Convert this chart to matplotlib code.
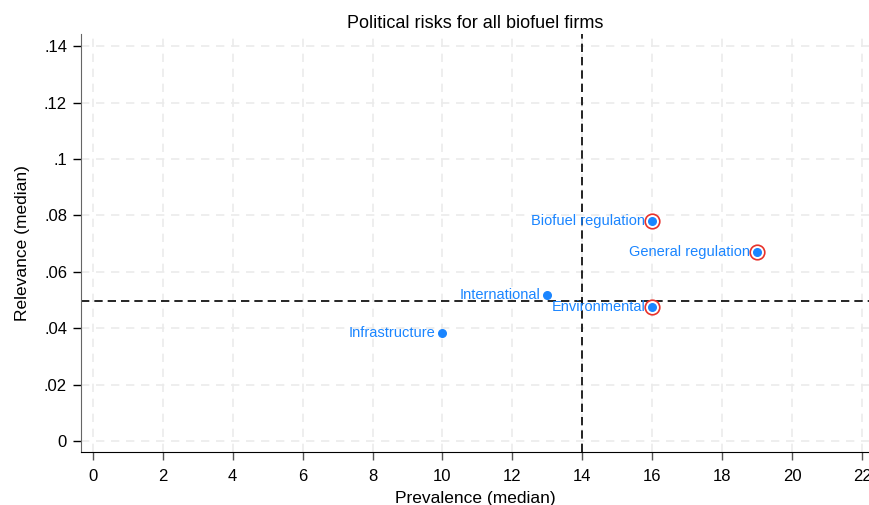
import matplotlib
matplotlib.use("Agg")
import matplotlib.pyplot as plt
import numpy as np

plt.rcParams['font.family'] = ['Liberation Sans', 'DejaVu Sans']

# median prevalence / relevance per risk type
risks = ['Biofuel regulation', 'General regulation', 'Environmental',
         'International', 'Infrastructure']
prevalence = [16, 19, 16, 13, 10]
relevance = [0.078, 0.067, 0.0475, 0.0518, 0.0383]
highlighted = [True, True, True, False, False]

x_cut = 14
y_cut = 0.0497

xticks = [0, 2, 4, 6, 8, 10, 12, 14, 16, 18, 20, 22]
yticks = [0, 0.02, 0.04, 0.06, 0.08, 0.1, 0.12, 0.14]
ytick_labels = ['0', '.02', '.04', '.06', '.08', '.1', '.12', '.14']

blue = '#1a85ff'

fig = plt.figure(figsize=(8.69, 5.05), dpi=100)
ax = fig.add_axes([0.0932, 0.105, 0.9068, 0.8277])

ax.set_xlim(-0.34, 22.2)
ax.set_ylim(-0.0039, 0.1443)

ax.set_xticks(xticks)
ax.set_yticks(yticks)
ax.set_yticklabels(ytick_labels)
ax.tick_params(axis='both', direction='out', length=6, width=1, labelsize=12)
ax.tick_params(axis='y', pad=4)
ax.tick_params(axis='x', pad=6, colors='#555555', labelcolor='black')

ax.grid(True, color='#ebebeb', linestyle=(0, (5, 4)), linewidth=1.2)
ax.set_axisbelow(True)

for s in ['top', 'right']:
    ax.spines[s].set_visible(False)
ax.spines['left'].set_color('#666666')
ax.spines['bottom'].set_color('black')

ax.axvline(x_cut, color='black', linestyle=(0, (5, 3)), linewidth=1.2, zorder=2)
ax.axhline(y_cut, color='black', linestyle=(0, (5, 3)), linewidth=1.2, zorder=2)

px = np.array(prevalence)
py = np.array(relevance)
hl = np.array(highlighted)
ax.scatter(px[hl], py[hl], s=110, facecolors='white', edgecolors='#e8322b',
           linewidths=1.2, zorder=3)
ax.scatter(px, py, s=30, color=blue, zorder=4)

for name, x, y in zip(risks, prevalence, relevance):
    ax.annotate(name, (x, y), xytext=(-5, 0), textcoords='offset points',
                ha='right', va='center', color=blue, fontsize=10.5, zorder=5)

ax.set_title('Political risks for all biofuel firms', fontsize=13, pad=4)
ax.set_xlabel('Prevalence (median)', fontsize=12.5, labelpad=5)
ax.set_ylabel('Relevance (median)', fontsize=12.5, labelpad=10)

fig.savefig('out.png', dpi=100)
